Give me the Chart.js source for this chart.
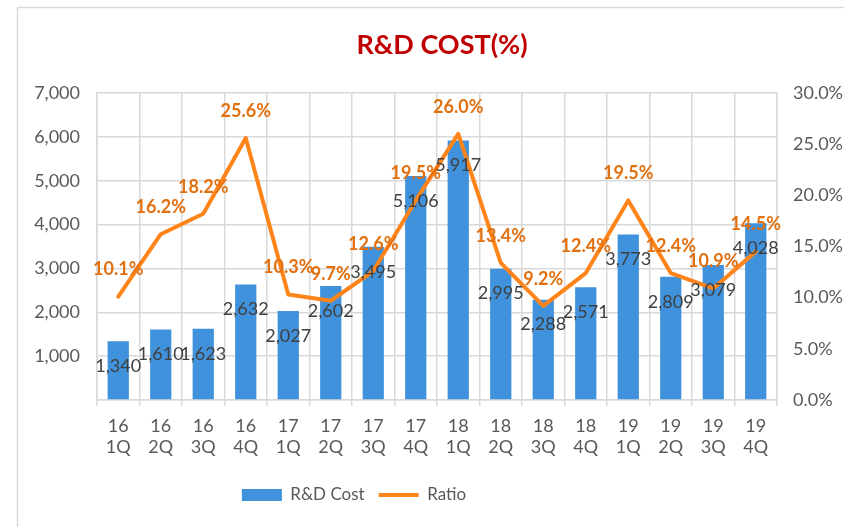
<!DOCTYPE html>
<html>
<head>
<meta charset="utf-8">
<title>R&D COST(%)</title>
<script src="https://cdn.jsdelivr.net/npm/chart.js@4"></script>
<style>
    html, body { margin: 0; padding: 0; background: #fff; }
    .chart-box { position: relative; width: 844px; height: 527px; }
</style>
</head>
<body>
<div class="chart-box">
    <canvas id="rdChart" width="844" height="527"></canvas>
</div>
<script>
// data
const categories = [
    ['16', '1Q'], ['16', '2Q'], ['16', '3Q'], ['16', '4Q'],
    ['17', '1Q'], ['17', '2Q'], ['17', '3Q'], ['17', '4Q'],
    ['18', '1Q'], ['18', '2Q'], ['18', '3Q'], ['18', '4Q'],
    ['19', '1Q'], ['19', '2Q'], ['19', '3Q'], ['19', '4Q']
];
const costValues = [1340, 1610, 1623, 2632, 2027, 2602, 3495, 5106, 5917, 2995, 2288, 2571, 3773, 2809, 3079, 4028];
const ratioValues = [10.1, 16.2, 18.2, 25.6, 10.3, 9.7, 12.6, 19.5, 26.0, 13.4, 9.2, 12.4, 19.5, 12.4, 10.9, 14.5];

const fontFamily = 'Lato, "Noto Sans", sans-serif';
const gridColor = '#d9d9d9';
const textColor = '#595959';

// frame lines around the chart (left and top only visible in the crop)
const framePlugin = {
    id: 'frame',
    beforeDraw(chart) {
        const ctx = chart.ctx;
        ctx.save();
        ctx.strokeStyle = gridColor;
        ctx.lineWidth = 1.5;
        ctx.beginPath();
        ctx.moveTo(17.5, chart.height);
        ctx.lineTo(17.5, 7.5);
        ctx.lineTo(chart.width, 7.5);
        ctx.stroke();
        ctx.restore();
    }
};

// the original chart box is wider than the crop, so title and legend sit off-centre
const blockShift = {
    id: 'blockShift',
    afterLayout(chart) {
        chart.titleBlock.left = 17;
        chart.titleBlock.right = 867;
        chart.legend.left = 0;
        chart.legend.right = 708;
        chart.legend.width = 708;
    }
};

// value labels, drawn from element positions
const valueLabels = {
    id: 'valueLabels',
    afterDatasetsDraw(chart) {
        const ctx = chart.ctx;
        ctx.save();
        ctx.textAlign = 'center';
        ctx.textBaseline = 'middle';

        const barMeta = chart.getDatasetMeta(0);
        ctx.font = '18px ' + fontFamily;
        ctx.fillStyle = '#404040';
        barMeta.data.forEach((bar, i) => {
            ctx.fillText(costValues[i].toLocaleString('en-US'), bar.x, bar.y + 25);
        });

        const lineMeta = chart.getDatasetMeta(1);
        ctx.font = 'bold 18px ' + fontFamily;
        ctx.fillStyle = '#E2700F';
        lineMeta.data.forEach((pt, i) => {
            ctx.fillText(ratioValues[i].toFixed(1) + '%', pt.x, pt.y - 27);
        });
        ctx.restore();
    }
};

const ctx = document.getElementById('rdChart').getContext('2d');
const chart = new Chart(ctx, {
    type: 'bar',
    data: {
        labels: categories,
        datasets: [{
            label: 'R&D Cost',
            data: costValues,
            backgroundColor: '#3F92DB',
            barPercentage: 0.5,
            categoryPercentage: 1,
            pointStyle: 'rect',
            yAxisID: 'y',
            order: 1
        }, {
            type: 'line',
            label: 'Ratio',
            data: ratioValues,
            borderColor: '#FF8419',
            backgroundColor: '#FF8419',
            borderWidth: 4,
            borderJoinStyle: 'round',
            borderCapStyle: 'round',
            pointRadius: 0,
            pointStyle: 'line',
            tension: 0,
            yAxisID: 'y1',
            order: 0
        }]
    },
    options: {
        responsive: false,
        animation: false,
        layout: { padding: { left: 0, right: 0, top: 0, bottom: 13.5 } },
        plugins: {
            title: {
                display: true,
                text: 'R&D COST(%)',
                color: '#C00000',
                font: { family: fontFamily, size: 27, weight: 'bold' },
                padding: { top: 29, bottom: 31.6 }
            },
            legend: {
                position: 'bottom',
                labels: {
                    usePointStyle: true,
                    pointStyleWidth: 40,
                    boxHeight: 12,
                    padding: 14,
                    color: textColor,
                    font: { family: fontFamily, size: 17 },
                    sort: (a, b) => a.datasetIndex - b.datasetIndex
                }
            },
            tooltip: { enabled: false }
        },
        scales: {
            x: {
                grid: { color: gridColor, lineWidth: 1.5, tickLength: 6, offset: true },
                border: { color: gridColor, width: 1.5 },
                ticks: {
                    color: textColor,
                    padding: 9,
                    maxRotation: 0,
                    autoSkip: false,
                    font: { family: fontFamily, size: 18 }
                },
                afterFit(scale) { scale.height = 72.5; }
            },
            y: {
                position: 'left',
                min: 0,
                max: 7000,
                grid: { color: gridColor, lineWidth: 1.5, drawTicks: false },
                border: { color: gridColor, width: 1.5 },
                ticks: {
                    stepSize: 1000,
                    padding: 17,
                    color: textColor,
                    font: { family: fontFamily, size: 18 },
                    callback: v => v === 0 ? '' : v.toLocaleString('en-US')
                },
                afterFit(scale) { scale.width = 97; }
            },
            y1: {
                position: 'right',
                min: 0,
                max: 30,
                grid: { drawOnChartArea: false, drawTicks: false },
                border: { color: gridColor, width: 1.5 },
                ticks: {
                    stepSize: 5,
                    padding: 16,
                    color: textColor,
                    font: { family: fontFamily, size: 18 },
                    callback: v => v.toFixed(1) + '%'
                },
                afterFit(scale) { scale.width = 67; }
            }
        }
    },
    plugins: [framePlugin, blockShift, valueLabels]
});
</script>
</body>
</html>
